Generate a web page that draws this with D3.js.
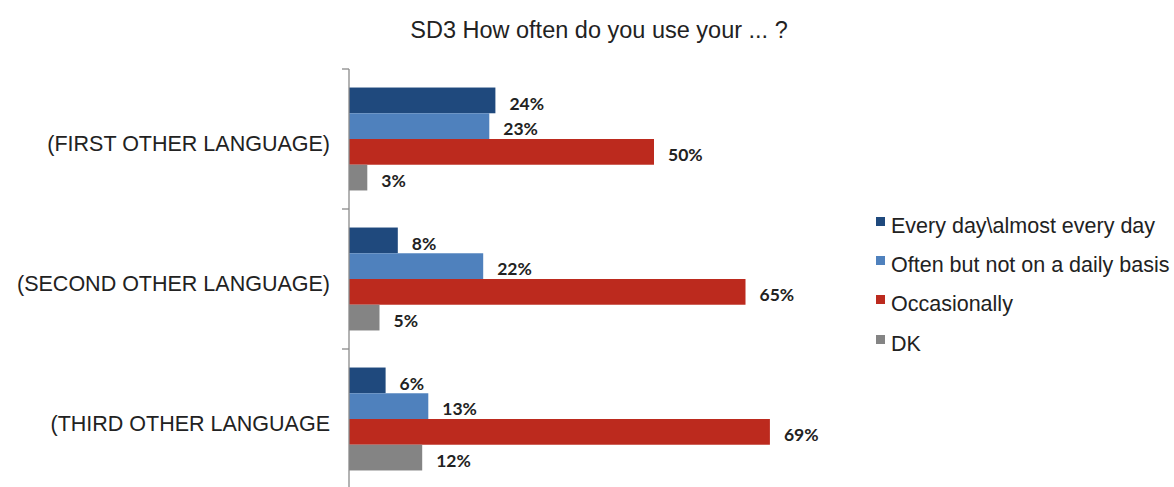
<!DOCTYPE html>
<html><head><meta charset="utf-8">
<script src="https://cdn.jsdelivr.net/npm/d3@7"></script>
<style>body{margin:0;background:#fff;}svg{display:block;}</style>
</head><body>
<script>
const categories = ["(FIRST OTHER LANGUAGE)", "(SECOND OTHER LANGUAGE)", "(THIRD OTHER LANGUAGE"];
const seriesNames = ["Every day\\almost every day", "Often but not on a daily basis", "Occasionally", "DK"];
const everyDay = [24, 8, 6];
const often = [23, 22, 13];
const occasionally = [50, 65, 69];
const dk = [3, 5, 12];
const colors = ["#1F497D", "#4F81BD", "#BC2A1E", "#848484"];
const title = "SD3 How often do you use your ... ?";

const W = 1174, H = 487;
const svg = d3.select("body").append("svg").attr("width", W).attr("height", H);
const series = [everyDay, often, occasionally, dk];

const x0 = 349;
const x = d3.scaleLinear().domain([0, 100]).range([x0, x0 + 610]);
const y = d3.scaleBand().domain(categories).range([69, 489]).paddingInner(0).paddingOuter(0);
const inner = d3.scaleBand().domain(d3.range(4)).range([0, y.bandwidth()]).paddingOuter(0.72).paddingInner(0);

svg.append("text").attr("x", 599).attr("y", 38).attr("text-anchor", "middle")
  .attr("font-family", "Liberation Sans, Arial, sans-serif").attr("font-size", 23.5).attr("fill", "#222")
  .text(title);

// bars
series.forEach((vals, si) => {
  const g = svg.append("g");
  g.selectAll("rect").data(vals).join("rect")
    .attr("x", x(0))
    .attr("y", (d, i) => y(categories[i]) + inner(si))
    .attr("width", d => x(d) - x(0))
    .attr("height", inner.bandwidth())
    .attr("fill", colors[si]);
  g.selectAll("text").data(vals).join("text")
    .attr("x", d => x(d) + 14)
    .attr("y", (d, i) => y(categories[i]) + inner(si) + inner.bandwidth() / 2 + 3)
    .attr("dy", "0.35em")
    .attr("font-family", "Lato, Open Sans, sans-serif").attr("font-weight", "bold")
    .attr("font-size", 17.5).attr("fill", "#222")
    .text(d => d + "%");
});

// axis
const axis = d3.axisLeft(y).tickSize(0).tickPadding(0).tickFormat("");
const ag = svg.append("g").attr("transform", `translate(${x0},0)`).call(axis);
ag.select(".domain").remove();
ag.append("line").attr("x1", 0).attr("x2", 0).attr("y1", 69).attr("y2", 487).attr("stroke", "#8a8a8a").attr("stroke-width", 1.3);
const tickYs = [69].concat(categories.map(c => y(c) + y.bandwidth()).filter(v => v < H));
ag.selectAll(".tk").data(tickYs).join("line").attr("class", "tk")
  .attr("x1", -7).attr("x2", 0).attr("y1", d => d).attr("y2", d => d).attr("stroke", "#8a8a8a").attr("stroke-width", 1.3);

svg.append("g").selectAll("text").data(categories).join("text")
  .attr("x", 330).attr("y", d => y(d) + y.bandwidth() / 2 + 4.5).attr("dy", "0.35em")
  .attr("text-anchor", "end").attr("font-family", "Liberation Sans, Arial, sans-serif").attr("font-size", 21.5).attr("fill", "#222")
  .text(d => d);

// legend
const lg = svg.append("g");
const legendY = [224, 263, 302, 342];
seriesNames.forEach((n, i) => {
  lg.append("rect").attr("x", 876).attr("y", legendY[i] - 7).attr("width", 9).attr("height", 9).attr("fill", colors[i]);
  lg.append("text").attr("x", 891).attr("y", legendY[i] + 1).attr("dy", "0.35em")
    .attr("font-family", "Liberation Sans, Arial, sans-serif").attr("font-size", 21.5).attr("fill", "#222").text(n);
});
</script>
</body></html>
